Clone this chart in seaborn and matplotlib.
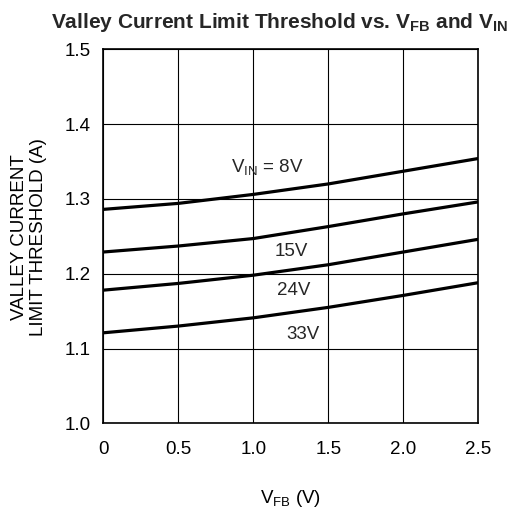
import matplotlib
matplotlib.use("Agg")
import matplotlib.pyplot as plt
import seaborn as sns
import pandas as pd
import numpy as np

# Data
vfb = [0.0, 0.5, 1.0, 1.5, 2.0, 2.5]
i_8v = [1.286, 1.294, 1.306, 1.320, 1.337, 1.354]
i_15v = [1.229, 1.237, 1.247, 1.263, 1.280, 1.296]
i_24v = [1.178, 1.187, 1.198, 1.212, 1.229, 1.246]
i_33v = [1.121, 1.130, 1.141, 1.155, 1.171, 1.188]
series_names = ["8V", "15V", "24V", "33V"]
x_ticks = [0, 0.5, 1.0, 1.5, 2.0, 2.5]
x_tick_labels = ["0", "0.5", "1.0", "1.5", "2.0", "2.5"]
y_ticks = [1.0, 1.1, 1.2, 1.3, 1.4, 1.5]
y_tick_labels = ["1.0", "1.1", "1.2", "1.3", "1.4", "1.5"]

sns.set_theme(style="white")
plt.rcParams["font.family"] = ["Liberation Sans", "DejaVu Sans"]
plt.rcParams["mathtext.fontset"] = "custom"
plt.rcParams["mathtext.rm"] = "Liberation Sans"
plt.rcParams["mathtext.it"] = "Liberation Sans"
plt.rcParams["mathtext.bf"] = "Liberation Sans:bold"

rows = []
for name, vals in zip(series_names, [i_8v, i_15v, i_24v, i_33v]):
    for x, y in zip(vfb, vals):
        rows.append({"VFB": x, "I": y, "VIN": name})
df = pd.DataFrame(rows)

fig = plt.figure(figsize=(5.18, 5.08), dpi=100)
ax = fig.add_axes([0.1995, 0.1667, 0.9234 - 0.1995, 0.903 - 0.1667])

sns.lineplot(data=df, x="VFB", y="I", hue="VIN", palette=["black"] * 4,
             linewidth=2.3, legend=False, ax=ax)

FS = 13.5
ax.set_xlim(0, 2.5)
ax.set_ylim(1.0, 1.5)
ax.set_xticks(x_ticks)
ax.set_xticklabels(x_tick_labels)
ax.set_yticks(y_ticks)
ax.set_yticklabels(y_tick_labels)
ax.grid(True, color="black", linewidth=0.8)
ax.set_axisbelow(True)
for s in ax.spines.values():
    s.set_color("black")
    s.set_linewidth(1.2)
    s.set_visible(True)
ax.tick_params(axis="x", length=0, pad=13, labelsize=FS, colors="black")
ax.tick_params(axis="y", length=0, pad=9, labelsize=FS, colors="black")
ax.set_xlabel("")
ax.set_ylabel("")

fig.text(0.561, 0.009, r"$\mathregular{V_{FB}}$ (V)", ha="center", va="baseline",
         fontsize=FS, color="black")
fig.text(0.056, 0.533, "VALLEY CURRENT\nLIMIT THRESHOLD (A)", rotation=90,
         ha="center", va="center", multialignment="center", fontsize=FS,
         color="black", linespacing=1.15)

ax.text(1.09, 1.343, r"$\mathregular{V_{IN}}$ = 8V", ha="center", va="center", fontsize=FS)
ax.text(1.256, 1.230, "15V", ha="center", va="center", fontsize=FS)
ax.text(1.27, 1.177, "24V", ha="center", va="center", fontsize=FS)
ax.text(1.333, 1.119, "33V", ha="center", va="center", fontsize=FS)

fig.text(0.54, 0.945,
         r"Valley Current Limit Threshold vs. $\mathbf{V_{FB}}$ and $\mathbf{V_{IN}}$",
         ha="center", va="baseline", fontsize=15, fontweight="bold")

fig.savefig("out.png", dpi=100)
